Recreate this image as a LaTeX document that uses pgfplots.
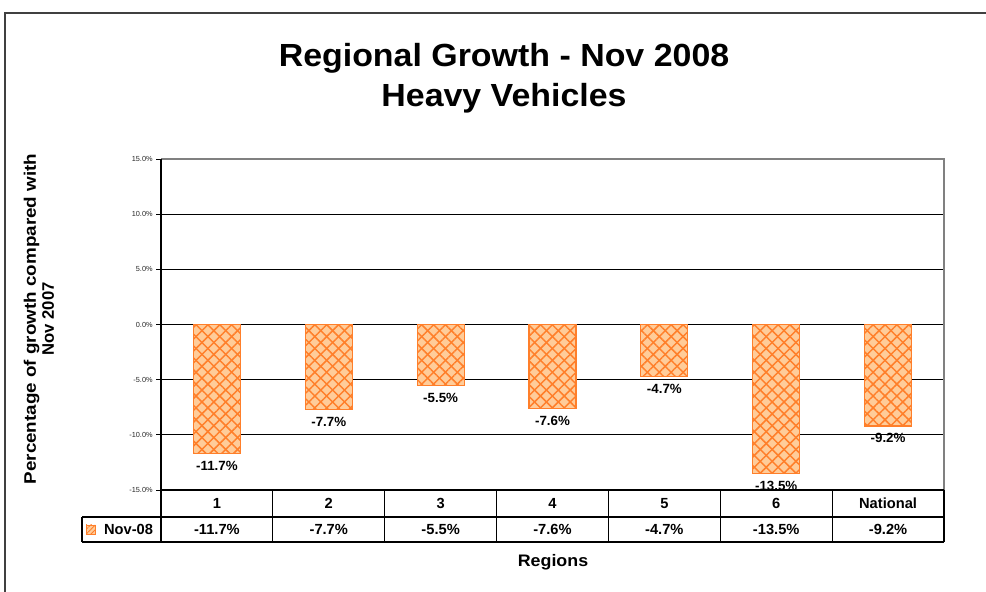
\documentclass[border=0pt]{standalone}
\usepackage{fontspec}
\setmainfont{Liberation Sans}
\usepackage{graphicx}
\usepackage{pgfplots}
\pgfplotsset{compat=1.18}
\usetikzlibrary{patterns.meta}
\definecolor{barfill}{HTML}{FFCC99}
\definecolor{barline}{HTML}{FF7F2A}
\definecolor{framegray}{HTML}{808080}

\begin{document}
\begin{tikzpicture}
% page = 986x592 px, 1px = 0.75pt
\useasboundingbox (0,0) rectangle (739.5pt,444pt);
\draw[line width=1.1pt, black!75] (3.75pt,-2pt) -- (3.75pt,434.25pt) -- (742pt,434.25pt);

\node[anchor=base, font=\fontsize{24}{28}\selectfont\bfseries] at (378pt,393.75pt) {\scalebox{1.06}[1]{Regional Growth - Nov 2008}};
\node[anchor=base, font=\fontsize{24}{28}\selectfont\bfseries] at (378pt,363.75pt) {\scalebox{1.06}[1]{Heavy Vehicles}};
\node[rotate=90, align=center, font=\fontsize{12.5}{13.5}\selectfont\bfseries] at (29.25pt,204.75pt)
  {\scalebox{1.13}[1]{Percentage of growth compared with}\\Nov 2007};
\node[font=\fontsize{12.5}{14}\selectfont\bfseries] at (414.75pt,22.5pt) {\scalebox{1.07}[1]{Regions}};

\begin{axis}[
  at={(120.75pt,76.5pt)}, anchor=south west,
  width=587.25pt, height=248.25pt, scale only axis,
  xmin=-0.5, xmax=6.5, ymin=-15, ymax=15,
  clip=false,
  axis line style={draw=none},
  xtick={0,...,6},
  xticklabels={1,2,3,4,5,6,National},
  xtick style={draw=none},
  xticklabel style={anchor=center, yshift=-6.35pt, font=\fontsize{11}{13}\selectfont\bfseries},
  ytick={-15,-10,...,15},
  ytick pos=left,
  yticklabel={\pgfmathprintnumber[fixed,precision=1,zerofill]{\tick}\%},
  yticklabel style={font=\fontsize{5.5}{6}\selectfont, xshift=1pt, black!85},
  /pgf/number format/assume math mode=true,
  tick align=outside, major tick length=3.75pt,
  ytick style={black, line width=0.6pt},
  ymajorgrids, grid style={black, line width=0.6pt},
]
\addplot[ybar, bar width=0.42, draw=barline, line width=0.8pt, fill=barfill,
  postaction={pattern={Lines[angle=45,distance=6.3pt,line width=1.1pt]}, pattern color=barline},
  postaction={pattern={Lines[angle=-45,distance=6.3pt,line width=1.1pt]}, pattern color=barline},
  nodes near coords={\pgfmathprintnumber[fixed,precision=1,zerofill]{\pgfplotspointmeta}\%},
  nodes near coords style={font=\fontsize{10}{12}\selectfont\bfseries, black, yshift=-2pt},
] coordinates {
  (0,-11.7) (1,-7.7) (2,-5.5) (3,-7.6) (4,-4.7) (5,-13.5) (6,-9.2)
};
% data table values row
\addplot[draw=none, mark=none, point meta=explicit,
  nodes near coords={\pgfmathprintnumber[fixed,precision=1,zerofill]{\pgfplotspointmeta}\%},
  nodes near coords style={anchor=center, font=\fontsize{11}{13}\selectfont\bfseries, black},
] coordinates {
  (0,-18.58) [-11.7] (1,-18.58) [-7.7] (2,-18.58) [-5.5] (3,-18.58) [-7.6]
  (4,-18.58) [-4.7] (5,-18.58) [-13.5] (6,-18.58) [-9.2]
};
% frame
\draw[framegray, line width=0.8pt] (axis cs:-0.5,15) -- (axis cs:6.5,15) -- (axis cs:6.5,-15);
\draw[black, line width=0.8pt] (axis cs:-0.5,15) -- (axis cs:-0.5,-19.713);
% table grid
\draw[black, line width=1.1pt] (axis cs:-0.5,-15) -- (axis cs:6.5,-15);
\draw[black, line width=1.1pt] (axis cs:-1.206,-17.447) -- (axis cs:6.5,-17.447);
\draw[black, line width=1.1pt] (axis cs:-1.206,-19.713) -- (axis cs:6.5,-19.713);
\draw[black, line width=0.8pt] (axis cs:-1.206,-17.447) -- (axis cs:-1.206,-19.713);
\pgfplotsinvokeforeach{0.5,1.5,2.5,3.5,4.5,5.5,6.5}{
  \draw[black, line width=0.8pt] (axis cs:#1,-15) -- (axis cs:#1,-19.713);
}
% legend key
\draw[barline, line width=0.5pt, fill=barfill,
  postaction={pattern={Lines[angle=45,distance=2.5pt,line width=0.6pt]}, pattern color=barline}]
  (axis cs:-1.170,-18.172) rectangle (axis cs:-1.090,-18.988);
\node[font=\fontsize{11}{13}\selectfont\bfseries] at (axis cs:-0.79,-18.58) {Nov-08};
\end{axis}
\end{tikzpicture}
\end{document}
